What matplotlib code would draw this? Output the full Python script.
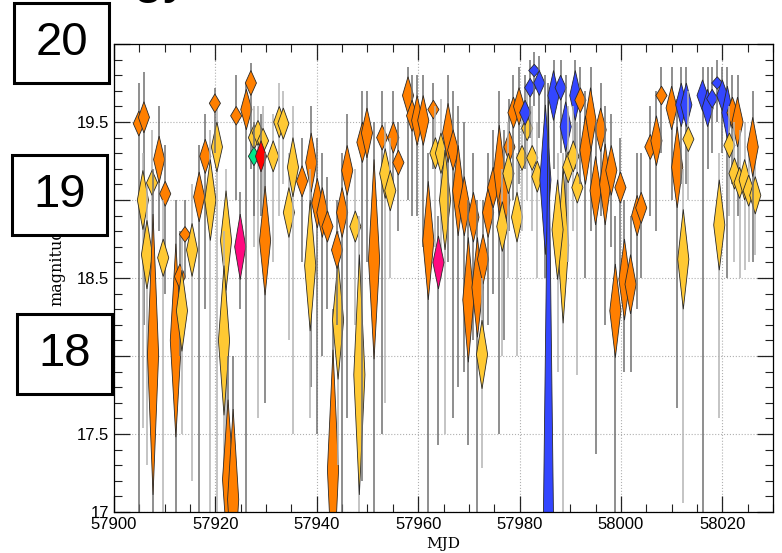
import matplotlib
matplotlib.use("Agg")
import matplotlib.pyplot as plt
from matplotlib.patches import Polygon, Rectangle
from matplotlib.ticker import MultipleLocator

# light curve points
mjd = [57904.9, 57905.9, 57905.7, 57906.5, 57907.5, 57907.7, 57908.9, 57910.1, 57909.7, 57912.2,
       57913.0, 57913.4, 57914.0, 57915.4, 57916.8, 57918.0, 57919.0, 57920.3, 57919.9, 57922.1,
       57921.7, 57922.5, 57923.5, 57924.9, 57924.1, 57926.1, 57927.0, 57927.6, 57928.4, 57929.4,
       57927.6, 57929.0, 57929.8, 57931.4, 57932.6, 57933.4, 57934.5, 57935.3, 57937.1, 57938.9,
       57938.7, 57940.1, 57941.1, 57942.1, 57943.2, 57944.2, 57944.0, 57945.0, 57946.0, 57947.6,
       57948.4, 57949.0, 57949.9, 57951.3, 57952.9, 57955.1, 57956.1, 57953.5, 57954.5, 57958.0,
       57958.8, 57959.8, 57961.0, 57963.0, 57963.4, 57964.5, 57965.3, 57962.0, 57964.0, 57965.9,
       57966.9, 57967.9, 57969.1, 57970.9, 57969.9, 57971.7, 57972.8, 57972.6, 57973.8, 57974.8,
       57976.0, 57977.0, 57978.0, 57976.6, 57977.8, 57979.5, 57978.8, 57979.9, 57980.5, 57981.5,
       57982.5, 57983.5, 57981.1, 57982.1, 57982.9, 57983.9, 57985.1, 57985.7, 57986.7, 57988.1,
       57989.1, 57991.0, 57988.6, 57987.5, 57989.6, 57990.6, 57991.4, 57992.0, 57994.0, 57996.0,
       57993.0, 57995.0, 57996.9, 57998.1, 57999.9, 57998.9, 58000.7, 58001.9, 58003.2, 58004.0,
       58005.8, 58007.0, 58008.0, 58010.0, 58011.1, 58011.9, 58012.9, 58013.3, 58012.3, 58019.4,
       58016.1, 58017.1, 58018.0, 58019.0, 58020.0, 58021.0, 58022.0, 58023.0, 58021.4, 58022.4,
       58023.4, 58024.4, 58025.2, 58026.5, 58026.0]

mag = [19.49, 19.53, 19.00, 18.65, 19.11, 18.01, 19.26, 19.04, 18.63, 18.10,
       18.51, 18.29, 18.78, 18.68, 19.02, 19.28, 19.00, 19.34, 19.62, 18.74,
       18.10, 17.21, 17.08, 18.70, 19.54, 19.58, 19.75, 19.40, 19.43, 19.38,
       19.28, 19.28, 18.74, 19.28, 19.50, 19.49, 18.92, 19.21, 19.12, 19.24,
       18.58, 18.98, 18.92, 18.83, 17.27, 18.23, 18.68, 18.92, 19.19, 18.83,
       17.88, 19.37, 19.43, 18.62, 19.40, 19.40, 19.24, 19.17, 19.06, 19.67,
       19.54, 19.51, 19.51, 19.58, 19.30, 19.30, 19.00, 18.74, 18.60, 19.43,
       19.32, 19.06, 18.96, 18.89, 18.36, 18.44, 18.62, 18.01, 18.92, 19.08,
       19.19, 19.00, 19.34, 18.83, 19.17, 18.89, 19.56, 19.60, 19.27, 19.46,
       19.27, 19.15, 19.56, 19.72, 19.83, 19.75, 19.13, 16.69, 19.67, 19.72,
       19.47, 19.67, 18.71, 18.81, 19.21, 19.28, 19.08, 19.64, 19.51, 19.45,
       19.32, 19.06, 19.10, 19.19, 19.08, 18.29, 18.49, 18.46, 18.90, 18.95,
       19.34, 19.38, 19.67, 19.59, 19.21, 19.61, 19.61, 19.39, 18.62, 18.84,
       19.67, 19.59, 19.65, 19.75, 19.67, 19.56, 19.56, 19.50, 19.35, 19.17,
       19.11, 19.13, 19.06, 19.03, 19.34]

dmag = [0.08, 0.10, 0.19, 0.22, 0.08, 0.90, 0.15, 0.08, 0.12, 0.62,
        0.08, 0.26, 0.05, 0.17, 0.16, 0.11, 0.26, 0.16, 0.06, 0.32,
        0.48, 0.51, 0.58, 0.21, 0.06, 0.13, 0.08, 0.08, 0.08, 0.08,
        0.06, 0.10, 0.35, 0.10, 0.10, 0.10, 0.16, 0.19, 0.10, 0.19,
        0.42, 0.16, 0.16, 0.10, 0.77, 0.38, 0.12, 0.16, 0.16, 0.10,
        0.77, 0.13, 0.16, 0.64, 0.08, 0.10, 0.08, 0.16, 0.13, 0.12,
        0.10, 0.16, 0.16, 0.06, 0.10, 0.13, 0.32, 0.38, 0.17, 0.19,
        0.13, 0.29, 0.19, 0.16, 0.40, 0.32, 0.16, 0.22, 0.16, 0.13,
        0.29, 0.19, 0.10, 0.16, 0.13, 0.16, 0.10, 0.12, 0.08, 0.08,
        0.08, 0.10, 0.08, 0.06, 0.04, 0.08, 0.48, 2.95, 0.16, 0.08,
        0.16, 0.16, 0.50, 0.32, 0.10, 0.10, 0.10, 0.08, 0.21, 0.14,
        0.22, 0.22, 0.26, 0.16, 0.10, 0.30, 0.26, 0.19, 0.13, 0.10,
        0.08, 0.16, 0.06, 0.14, 0.26, 0.14, 0.14, 0.08, 0.32, 0.29,
        0.10, 0.12, 0.06, 0.04, 0.10, 0.17, 0.10, 0.16, 0.08, 0.10,
        0.10, 0.13, 0.10, 0.12, 0.19]

bar_hi = [19.75, 19.82, 19.3, 19.1, 19.45, 19.2, 19.6, 19.35, 19.0, 19.0,
          18.8, 18.8, 19.0, 19.1, 19.35, 19.55, 19.45, 19.62, 19.72, 19.2,
          18.8, 18.0, 18.0, 19.05, 19.8, 19.75, 19.88, 19.6, 19.6, 19.6,
          19.5, 19.55, 19.3, 19.55, 19.75, 19.7, 19.3, 19.6, 19.4, 19.6,
          19.2, 19.4, 19.3, 19.15, 18.3, 18.8, 19.0, 19.3, 19.55, 19.2,
          18.9, 19.7, 19.7, 19.5, 19.7, 19.7, 19.5, 19.5, 19.4, 19.85,
          19.8, 19.8, 19.8, 19.75, 19.6, 19.65, 19.5, 19.3, 18.9, 19.8,
          19.7, 19.6, 19.5, 19.3, 19.0, 19.0, 19.0, 18.5, 19.3, 19.45,
          19.7, 19.45, 19.65, 19.2, 19.5, 19.3, 19.8, 19.85, 19.55, 19.7,
          19.6, 19.5, 19.8, 19.9, 19.95, 19.92, 19.8, 19.75, 19.9, 19.9,
          19.8, 19.9, 19.3, 19.3, 19.6, 19.6, 19.5, 19.85, 19.85, 19.75,
          19.7, 19.5, 19.6, 19.55, 19.4, 18.9, 19.0, 18.9, 19.3, 19.3,
          19.6, 19.7, 19.85, 19.85, 19.65, 19.85, 19.85, 19.7, 19.2, 19.3,
          19.85, 19.85, 19.85, 19.9, 19.85, 19.85, 19.8, 19.8, 19.6, 19.5,
          19.45, 19.5, 19.4, 19.4, 19.7]

bar_lo = [17.0, 18.2, 17.54, 17.3, 18.6, 17.0, 18.8, 18.4, 17.0, 17.0,
          18.0, 17.5, 18.5, 17.2, 17.0, 18.3, 17.0, 17.0, 19.3, 17.0,
          17.2, 17.0, 17.0, 18.3, 19.0, 17.0, 19.2, 18.7, 17.6, 18.9,
          18.9, 18.9, 17.7, 18.6, 18.9, 19.1, 18.1, 17.5, 18.6, 17.8,
          17.6, 17.5, 18.0, 18.3, 17.0, 17.3, 18.2, 17.0, 17.6, 18.2,
          17.0, 17.2, 18.6, 17.0, 17.5, 19.0, 18.8, 17.7, 18.5, 19.0,
          18.9, 18.9, 18.7, 19.2, 18.7, 18.5, 17.5, 17.0, 17.43, 18.6,
          17.6, 17.8, 17.9, 18.1, 17.43, 17.0, 17.9, 17.28, 18.2, 18.4,
          17.5, 18.1, 18.8, 18.0, 18.5, 18.0, 19.0, 19.1, 18.8, 19.0,
          18.8, 18.5, 19.2, 19.4, 19.6, 19.4, 18.5, 17.0, 19.2, 19.3,
          18.9, 19.2, 17.0, 17.9, 18.6, 18.8, 17.88, 19.1, 18.8, 18.9,
          18.5, 17.37, 18.2, 18.7, 18.5, 17.0, 17.9, 17.9, 18.3, 18.5,
          18.9, 18.8, 19.3, 19.0, 17.67, 19.1, 19.1, 19.0, 17.06, 17.6,
          17.0, 19.2, 19.3, 19.5, 19.3, 18.5, 19.1, 18.9, 18.9, 18.6,
          18.5, 18.55, 18.6, 18.65, 18.6]

band = list("rriiirrrir" "ririrriiri" "irrzrrriii" "VRriiiiirr" "irrrrirrri"
            "irrrrrriir" "rrrriiirzr" "rrrrrrrirr" "rrriiirrii" "iigggggggg"
            "ggiiiiirrr" "rrrrrrrrrr" "rrrrrggiii" "ggggggrrii" "iiiir")

fill = {'r': '#ff7f00', 'i': '#ffc933', 'g': '#3346ff',
        'z': '#ff0a80', 'R': '#ff0000', 'V': '#00e68a'}
bar_col = {'i': '#b4b4b4'}

plt.rcParams['font.family'] = ['Liberation Sans', 'DejaVu Sans']

fig = plt.figure(figsize=(7.82, 5.53), dpi=100)
ax = fig.add_axes([0.1458, 0.0741, 0.8427, 0.8463])

hw = 1.1  # half width of a diamond, days
for i in range(len(mjd)):
    x, y, d = mjd[i], mag[i], dmag[i]
    ax.vlines(x, bar_lo[i], bar_hi[i], colors=bar_col.get(band[i], '#707070'),
              linewidth=1.1, zorder=2)
    ax.add_patch(Polygon([(x - hw, y), (x, y + d), (x + hw, y), (x, y - d)],
                         closed=True, facecolor=fill[band[i]], edgecolor='#2a2a2a',
                         linewidth=0.6, zorder=2))

ax.set_xlim(57900, 58030)
ax.set_ylim(17, 20)
ax.xaxis.set_major_locator(MultipleLocator(20))
ax.xaxis.set_minor_locator(MultipleLocator(5))
ax.yaxis.set_major_locator(MultipleLocator(0.5))
ax.yaxis.set_minor_locator(MultipleLocator(0.1))
ax.yaxis.set_major_formatter(plt.FuncFormatter(lambda v, p: f"{v:g}"))
ax.tick_params(which='both', direction='in', top=True, right=True, labelsize=12, color='#222222')
ax.tick_params(which='major', length=11.5, width=0.9)
ax.tick_params(which='minor', length=6, width=0.8)
ax.grid(which='major', linestyle=':', color='#b0b0b0', linewidth=0.8)
ax.set_axisbelow(True)
for s in ax.spines.values():
    s.set_linewidth(0.9)

ax.set_xlabel('MJD', family='DejaVu Serif', fontsize=11, labelpad=4)
fig.text(57 / 782, 1 - 306 / 553, 'magnitude', rotation=90, ha='center', va='bottom',
         family='DejaVu Serif', fontsize=11.5, zorder=3)

# slide overlay: cropped title and the magnitude boxes
fig.text(133 / 782, 1.016, 'gy', fontsize=40, ha='left', va='baseline')
boxes = [(14, 3, '20'), (12, 155, '19'), (17, 314, '18')]
for bx, by, lab in boxes:
    fig.patches.append(Rectangle((bx / 782, 1 - (by + 80) / 553), 95 / 782, 80 / 553,
                                 transform=fig.transFigure, facecolor='white',
                                 edgecolor='black', linewidth=2.2, zorder=5))
    fig.text((bx + 47.5) / 782, 1 - (by + 40) / 553, lab, fontsize=34,
             ha='center', va='center', zorder=6)

fig.savefig('out.png', dpi=100)
